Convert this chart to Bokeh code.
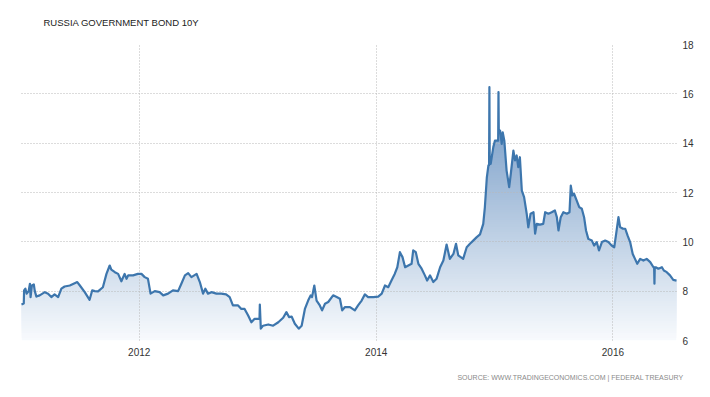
import numpy as np
import pandas as pd
from bokeh.plotting import figure
from bokeh.models import Range1d, FixedTicker, DatetimeTickFormatter, Title
from bokeh.embed import file_html
from bokeh.resources import INLINE

title_text = "RUSSIA GOVERNMENT BOND 10Y"
source_text = "SOURCE: WWW.TRADINGECONOMICS.COM | FEDERAL TREASURY"

dates_2011 = ["2011-01-03", "2011-01-10", "2011-01-11", "2011-01-15", "2011-01-19", "2011-01-25", "2011-01-29",
              "2011-01-31", "2011-02-04", "2011-02-10", "2011-02-13", "2011-02-18", "2011-02-28", "2011-03-16",
              "2011-03-26", "2011-04-05", "2011-04-15", "2011-04-26", "2011-05-06", "2011-05-16", "2011-06-01",
              "2011-06-16", "2011-06-24", "2011-07-02", "2011-07-17", "2011-08-01", "2011-08-09", "2011-08-17",
              "2011-08-27", "2011-09-11", "2011-09-22", "2011-10-02", "2011-10-07", "2011-10-18", "2011-10-28",
              "2011-11-07", "2011-11-17", "2011-11-23", "2011-11-28", "2011-12-13", "2011-12-28"]
yield_2011 = [7.46, 7.50, 8.03, 8.10, 7.90, 8.00, 8.30, 7.76, 8.23, 8.27,
              8.00, 7.78, 7.83, 7.96, 7.90, 7.76, 7.87, 7.76, 8.10, 8.19,
              8.23, 8.32, 8.37, 8.23, 7.96, 7.65, 8.03, 8.00, 7.99, 8.16,
              8.70, 9.04, 8.87, 8.77, 8.70, 8.40, 8.70, 8.50, 8.64, 8.64, 8.70]

dates_2012 = ["2012-01-08", "2012-01-18", "2012-01-28", "2012-02-05", "2012-02-18", "2012-03-04", "2012-03-15",
              "2012-03-30", "2012-04-14", "2012-04-30", "2012-05-10", "2012-05-21", "2012-05-31", "2012-06-10",
              "2012-06-26", "2012-07-06", "2012-07-16", "2012-07-23", "2012-07-31", "2012-08-11", "2012-08-26",
              "2012-09-10", "2012-09-25", "2012-10-06", "2012-10-16", "2012-11-01", "2012-11-11", "2012-11-21",
              "2012-12-02", "2012-12-12", "2012-12-22"]
yield_2012 = [8.70, 8.57, 8.50, 7.90, 8.00, 7.96, 7.83, 7.90, 8.03, 8.00,
              8.30, 8.64, 8.73, 8.57, 8.70, 8.37, 7.90, 8.10, 7.90, 7.96,
              7.90, 7.90, 7.87, 7.76, 7.42, 7.42, 7.28, 7.28, 7.01, 6.74, 6.88]

dates_2013 = ["2013-01-02", "2013-01-06", "2013-01-07", "2013-01-10", "2013-01-17", "2013-02-02", "2013-02-17",
              "2013-03-05", "2013-03-20", "2013-03-30", "2013-04-07", "2013-04-15", "2013-04-25", "2013-05-07",
              "2013-05-16", "2013-05-26", "2013-06-05", "2013-06-13", "2013-06-17", "2013-06-24", "2013-07-01",
              "2013-07-11", "2013-07-18", "2013-07-27", "2013-08-06", "2013-08-21", "2013-09-01", "2013-09-11",
              "2013-09-18", "2013-09-26", "2013-10-12", "2013-10-27", "2013-11-06", "2013-11-17", "2013-11-27",
              "2013-12-07", "2013-12-23"]
yield_2013 = [6.88, 6.88, 7.46, 6.48, 6.60, 6.65, 6.60, 6.74, 6.92, 7.15,
              6.95, 6.97, 6.68, 6.48, 6.60, 7.28, 7.62, 7.83, 7.76, 8.23,
              7.62, 7.42, 7.22, 7.49, 7.56, 7.83, 7.76, 7.69, 7.22, 7.35,
              7.35, 7.22, 7.42, 7.62, 7.87, 7.76, 7.76]

dates_2014 = ["2014-01-07", "2014-01-18", "2014-01-28", "2014-02-07", "2014-02-17", "2014-02-27", "2014-03-07",
              "2014-03-15", "2014-03-23", "2014-03-31", "2014-04-10", "2014-04-20", "2014-04-25", "2014-05-03",
              "2014-05-11", "2014-05-21", "2014-05-31", "2014-06-07", "2014-06-16", "2014-06-26", "2014-07-06",
              "2014-07-17", "2014-07-27", "2014-08-06", "2014-08-16", "2014-08-27", "2014-09-04", "2014-09-11",
              "2014-09-26", "2014-10-07", "2014-10-17", "2014-10-27", "2014-11-07", "2014-11-17", "2014-11-27",
              "2014-12-02", "2014-12-08", "2014-12-13", "2014-12-15", "2014-12-16", "2014-12-17", "2014-12-20",
              "2014-12-28"]
yield_2014 = [7.78, 7.90, 8.23, 8.16, 8.43, 8.70, 8.97, 9.58, 9.38, 8.97,
              9.04, 9.11, 9.65, 9.58, 9.11, 8.91, 8.64, 8.43, 8.64, 8.37,
              8.50, 8.97, 9.24, 9.89, 9.31, 9.51, 9.92, 9.45, 9.31, 9.78,
              9.92, 10.05, 10.19, 10.30, 10.73, 11.40, 12.60, 13.10, 13.10, 16.27,
              13.30, 13.16, 13.84]

dates_2015 = ["2015-01-02", "2015-01-09", "2015-01-12", "2015-01-13", "2015-01-14", "2015-01-18", "2015-01-23",
              "2015-01-26", "2015-01-31", "2015-02-07", "2015-02-15", "2015-02-20", "2015-02-28", "2015-03-05",
              "2015-03-10", "2015-03-15", "2015-03-20", "2015-03-26", "2015-04-02", "2015-04-10", "2015-04-15",
              "2015-04-22", "2015-05-01", "2015-05-06", "2015-05-11", "2015-05-21", "2015-05-31", "2015-06-06",
              "2015-06-16", "2015-06-26", "2015-07-06", "2015-07-12", "2015-07-17", "2015-07-24", "2015-08-01",
              "2015-08-12", "2015-08-20", "2015-08-24", "2015-08-29", "2015-09-03", "2015-09-11", "2015-09-19",
              "2015-09-27", "2015-10-04", "2015-10-10", "2015-10-17", "2015-10-28", "2015-11-04", "2015-11-12",
              "2015-11-19", "2015-11-28", "2015-12-08", "2015-12-18", "2015-12-28"]
yield_2015 = [14.10, 14.10, 14.10, 16.07, 14.50, 14.51, 13.97, 14.44, 14.10, 12.89,
              12.22, 12.76, 13.70, 13.30, 13.50, 13.03, 13.43, 12.08, 11.81, 11.14,
              10.59, 11.14, 11.20, 10.33, 10.73, 10.70, 10.73, 11.20, 11.14, 11.20,
              11.27, 11.00, 10.46, 11.00, 11.20, 11.14, 11.20, 12.28, 11.88, 11.95,
              11.68, 11.41, 11.34, 11.00, 10.46, 10.12, 10.05, 9.85, 9.99, 9.65,
              9.99, 10.05, 9.99, 9.85]

dates_2016 = ["2016-01-05", "2016-01-11", "2016-01-18", "2016-01-23", "2016-02-01", "2016-02-08", "2016-02-15",
              "2016-02-23", "2016-03-02", "2016-03-09", "2016-03-16", "2016-03-25", "2016-04-04", "2016-04-14",
              "2016-04-25", "2016-05-05", "2016-05-07", "2016-05-08", "2016-05-09", "2016-05-12", "2016-05-20",
              "2016-05-31", "2016-06-06", "2016-06-15", "2016-06-25", "2016-07-05", "2016-07-15"]
yield_2016 = [9.78, 10.33, 11.00, 10.60, 10.53, 10.53, 10.26, 9.99, 9.51, 9.31,
              9.11, 9.31, 9.24, 9.31, 9.18, 8.97, 8.97, 8.30, 8.97, 8.97,
              8.91, 8.97, 8.84, 8.77, 8.64, 8.46, 8.43]

y_ticks = [6, 8, 10, 12, 14, 16, 18]
x_tick_dates = ["2012-01-01", "2014-01-01", "2016-01-01"]

dates = dates_2011 + dates_2012 + dates_2013 + dates_2014 + dates_2015 + dates_2016
yields = yield_2011 + yield_2012 + yield_2013 + yield_2014 + yield_2015 + yield_2016

x = pd.to_datetime(dates)
x_ms = (x.astype("int64") // 10**6).to_numpy().astype(float)
y = np.array(yields)
y_lo, y_hi = y_ticks[0], y_ticks[-1]

p = figure(width=700, height=396, output_backend="svg", toolbar_location=None,
           x_axis_type="datetime", y_axis_location="right",
           x_range=Range1d(x_ms[0], x_ms[-1]), y_range=Range1d(y_lo, y_hi),
           min_border_left=21, min_border_right=24, min_border_top=44, min_border_bottom=56,
           background_fill_color="white", border_fill_color="white")
p.outline_line_color = None


def layer_above(level):
    """Series clipped from below at `level`, with the crossing points inserted."""
    xs, ys = [x_ms[0]], [max(y[0], level)]
    for i in range(len(y) - 1):
        ya, yb = y[i], y[i + 1]
        if (ya - level) * (yb - level) < 0:
            xs.append(x_ms[i] + (level - ya) / (yb - ya) * (x_ms[i + 1] - x_ms[i]))
            ys.append(level)
        xs.append(x_ms[i + 1])
        ys.append(max(yb, level))
    return np.array(xs), np.array(ys)


# vertical gradient under the line, as stacked layers (each from its level up to the series)
step = 0.1
bottom_rgb = np.array([248, 250, 253])
top_rgb = np.array([84, 130, 184])
level = float(y_lo)
while level < y.max():
    tt = (level + step / 2 - y_lo) / (y_hi - y_lo)
    col = "#%02x%02x%02x" % tuple(int(round(b + (tp - b) * tt)) for b, tp in zip(bottom_rgb, top_rgb))
    lx, ly = layer_above(level)
    p.varea(x=lx, y1=level, y2=ly, fill_color=col, fill_alpha=1.0)
    level += step

p.line(x_ms, y, line_color="#3d76ad", line_width=2.2, line_join="round", level="overlay")

# grid
for g in (p.xgrid, p.ygrid):
    g.grid_line_color = "#b8b8b8"
    g.grid_line_dash = "1 2"
    g.grid_line_width = 1
    g.level = "annotation"

# axes
p.yaxis.ticker = FixedTicker(ticks=y_ticks)
p.xaxis.ticker = FixedTicker(ticks=list((pd.to_datetime(x_tick_dates).astype("int64") // 10**6).to_numpy().astype(float)))
p.xaxis.formatter = DatetimeTickFormatter(years="%Y", months="%Y", days="%Y", hours="%Y",
                                          minutes="%Y", seconds="%Y", milliseconds="%Y",
                                          microseconds="%Y", minsec="%Y", hourmin="%Y")
for ax in (p.xaxis[0], p.yaxis[0]):
    ax.axis_line_color = None
    ax.major_tick_line_color = None
    ax.minor_tick_line_color = None
    ax.major_label_text_font = "Liberation Sans"
    ax.major_label_text_font_size = "10px"
    ax.major_label_text_color = "#333333"
p.yaxis.major_label_standoff = 0
p.xaxis.major_label_standoff = 1

p.title.text = title_text
p.title.align = "left"
p.title.vertical_align = "top"
p.title.offset = 22
p.title.text_font = "Liberation Sans"
p.title.text_font_size = "9.5px"
p.title.text_font_style = "normal"
p.title.text_color = "#222222"
p.title.standoff = 29

src = Title(text=source_text, align="right", vertical_align="bottom", offset=-7, text_font="Liberation Sans",
            text_font_size="7px", text_font_style="normal", text_color="#8a8a8a", standoff=26)
p.add_layout(src, "below")

open("out.html", "w").write(file_html(p, INLINE))
